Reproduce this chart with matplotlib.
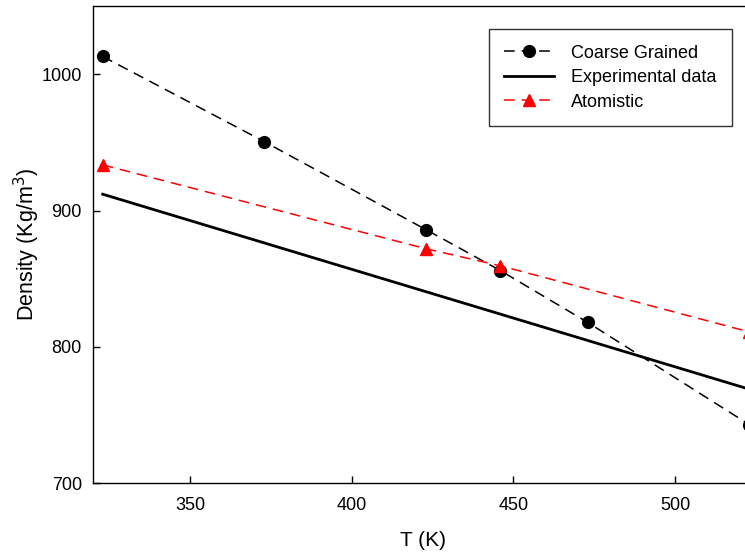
import matplotlib
matplotlib.use("Agg")
import matplotlib.pyplot as plt

plt.rcParams['font.family'] = ['Liberation Sans', 'DejaVu Sans']

# Density vs temperature
t_cg = [323, 373, 423, 446, 473, 523]
rho_cg = [1013, 950.5, 886, 856, 818, 743]

t_exp = [323, 523]
rho_exp = [912, 769]

t_at = [323, 423, 446, 523]
rho_at = [933.5, 872, 859.5, 811]

x_ticks = [350, 400, 450, 500]
y_ticks = [700, 800, 900, 1000]

fig = plt.figure(figsize=(7.45, 5.57), dpi=100)
W, H = 745, 557
x_lo, x_hi = 320, 524
px_per_k = 3.233
left_px, top_px, bottom_px = 93, 6, 483.3
right_px = left_px + (x_hi - x_lo) * px_per_k
ax = fig.add_axes([left_px / W, 1 - bottom_px / H,
                   (right_px - left_px) / W, (bottom_px - top_px) / H])

dash = (7, 4.5)
ax.plot(t_cg, rho_cg, color='black', lw=1.1, dashes=dash, marker='o',
        ms=8.5, label='Coarse Grained')
ax.plot(t_exp, rho_exp, color='black', lw=2.0, label='Experimental data')
ax.plot(t_at, rho_at, color='red', lw=1.1, dashes=dash, marker='^',
        ms=9, label='Atomistic')

ax.set_xlim(x_lo, x_hi)
ax.set_ylim(700, 1050)
ax.set_xticks(x_ticks)
ax.set_yticks(y_ticks)
ax.tick_params(direction='in', length=5, width=1, labelsize=13, pad=8)
ax.tick_params(axis='x', pad=10)
ax.spines['right'].set_visible(False)
for s in ('left', 'bottom', 'top'):
    ax.spines[s].set_linewidth(1.0)

ax.set_xlabel('T (K)', fontsize=15, labelpad=12)
ax.set_ylabel('Density (Kg/m$^3$)', fontsize=15.5, labelpad=0)

ax_w = right_px - left_px
ax_h = bottom_px - top_px
leg = ax.legend(loc='upper right',
                bbox_to_anchor=((731.7 - left_px) / ax_w, (bottom_px - 29.3) / ax_h),
                borderaxespad=0, fontsize=13, frameon=True, fancybox=False,
                edgecolor='black', handlelength=2.75, handletextpad=0.95,
                labelspacing=0.42, borderpad=0.85)
leg.get_frame().set_linewidth(1.0)

fig.savefig('out.png', dpi=100)
